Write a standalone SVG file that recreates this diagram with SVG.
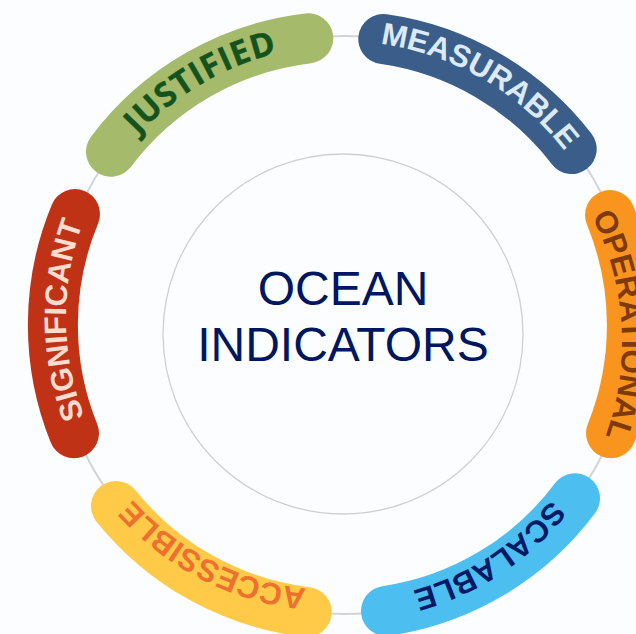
<svg xmlns="http://www.w3.org/2000/svg" width="636" height="634" viewBox="0 0 636 634">
<style>
.band{fill:none;stroke-width:50;stroke-linecap:round}
.lbl{font-family:"Liberation Sans",Arial,sans-serif;font-size:31px;font-weight:700;text-anchor:middle}
.ctr{font-family:"Liberation Sans",Arial,sans-serif;font-size:48px;fill:#00175f;text-anchor:middle}
</style>
<defs>
<path id="a282" d="M-231 -161.8A282 282 0 0 1 231 -161.8"/>
<path id="a280" d="M-229.4 -160.6A280 280 0 0 1 229.4 -160.6"/>
<path id="a278" d="M-227.7 -159.5A278 278 0 0 1 227.7 -159.5"/>
<path id="a270" d="M-221.2 -154.9A270 270 0 0 1 221.2 -154.9"/>
<path id="a266" d="M-217.9 -152.6A266 266 0 0 1 217.9 -152.6"/>
</defs>
<rect width="636" height="634" fill="#fbfdff"/>
<g id="connectors">
<circle cx="344" cy="325" r="289" fill="none" stroke="#d3d3d3" stroke-width="2"/>
</g>
<g id="center">
<circle cx="343" cy="334" r="180" fill="none" stroke="#d0d0d0" stroke-width="1.3"/>
<text class="ctr" x="343" y="305">OCEAN</text>
<text class="ctr" x="343" y="360.5">INDICATORS</text>
</g>
<g id="measurable">
<path class="band" stroke="#3a5d89" d="M383.3 39A289 289 0 0 1 571.7 149"/>
<text class="lbl" fill="#dceaf8" transform="translate(341 323) rotate(30.2)"><textPath href="#a282" startOffset="50%">MEASURABLE</textPath></text>
</g>
<g id="operational">
<path class="band" stroke="#f9951f" d="M610 215A289 289 0 0 1 611 433.3"/>
<text class="lbl" style="font-size:31.5px" fill="#7f3a0b" transform="translate(344 342) rotate(86.4)"><textPath href="#a278" startOffset="50%">OPERATIONAL</textPath></text>
</g>
<g id="scalable">
<path class="band" stroke="#4cbff0" d="M575 498.3A289 289 0 0 1 386 611"/>
<text class="lbl" fill="#001a66" transform="translate(343 334) rotate(146.7)"><textPath href="#a266" startOffset="50%">SCALABLE</textPath></text>
</g>
<g id="accessible">
<path class="band" stroke="#ffca47" d="M306.7 612A289 289 0 0 1 116 506"/>
<text class="lbl" fill="#ee7030" transform="translate(334 320) rotate(207.1)"><textPath href="#a270" startOffset="50%">ACCESSIBLE</textPath></text>
</g>
<g id="significant">
<path class="band" stroke="#c03216" d="M74 433.3A289 289 0 0 1 75 214"/>
<text class="lbl" fill="#fbddcf" transform="translate(344 317.7) rotate(269.5)"><textPath href="#a278" startOffset="50%">SIGNIFICANT</textPath></text>
</g>
<g id="justified">
<path class="band" stroke="#a5bb6b" d="M111 151.7A289 289 0 0 1 308.3 38.3"/>
<text class="lbl" fill="#14531e" stroke="#14531e" stroke-width="0.3" style="font-family:'Open Sans',sans-serif;font-size:33.5px;letter-spacing:0.7px" transform="translate(344 325) rotate(329.5)"><textPath href="#a280" startOffset="50%">JUSTIFIED</textPath></text>
</g>
</svg>
